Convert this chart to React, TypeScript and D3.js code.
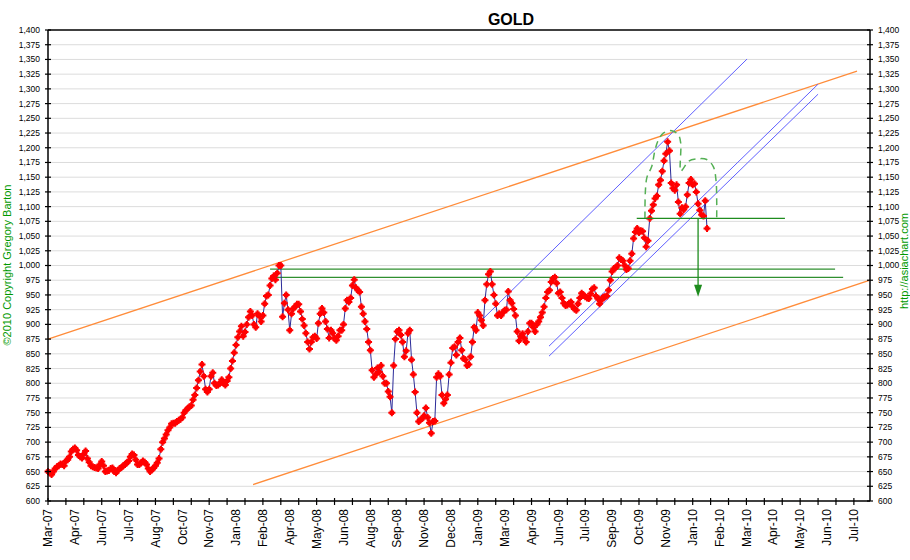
import React from 'react';
import * as d3 from 'd3';

const W = 910;
const H = 560;
const PLOT = { left: 48, right: 870, top: 30, bottom: 501 };

// trading-day sampling of the gold series
const STEP = 2;
const X_MAX = 918;
const LABEL_EVERY = 30;
const TICK_EVERY = 20;

const goldPrices: number[] = [
  650, 648, 645, 650, 655, 658, 660, 663, 662, 660,
  668, 670, 675, 684, 688, 690, 686, 678, 675, 673,
  680, 685, 672, 666, 660, 658, 657, 656, 655, 662,
  667, 660, 650, 651, 652, 655, 656, 650, 648, 652,
  655, 657, 660, 662, 665, 668, 675, 680, 678, 670,
  662, 662, 665, 668, 666, 662, 655, 650, 653, 656,
  660, 665, 672, 688, 700, 706, 713, 720, 725, 731,
  732, 732, 735, 737, 739, 742, 750, 754, 757, 760,
  762, 772, 780, 792, 805, 820, 832, 812, 790, 785,
  790, 812, 818, 800, 796, 797, 800, 806, 800, 797,
  804, 810, 825, 838, 852, 865, 878, 888, 897, 880,
  887, 900, 912, 922, 915, 900, 895, 918, 914, 905,
  915, 935, 948, 950, 966, 978, 982, 976, 987, 1000,
  1000, 913, 936, 950, 925, 890, 918, 927, 930, 934,
  934, 922, 909, 898, 885, 870, 858, 870, 878, 880,
  876, 902, 918, 927, 920, 905, 892, 877, 890, 885,
  876, 873, 880, 890, 890, 900, 927, 941, 938, 945,
  966, 976, 962, 958, 955, 930, 918, 905, 892, 870,
  856, 822, 810, 815, 826, 819, 830, 812, 800, 800,
  786, 777, 750, 830, 875, 888, 890, 882, 870, 845,
  855, 885, 890, 840, 815, 785, 750, 735, 738, 740,
  745, 758, 742, 733, 715, 735, 736, 810, 816, 812,
  780, 766, 773, 780, 815, 835, 860, 862, 848, 870,
  877, 856, 842, 840, 830, 832, 845, 870, 895, 890,
  920, 915, 907, 898, 941, 968, 985, 990, 968, 950,
  935, 915, 918, 915, 920, 924, 925, 956, 941, 936,
  926, 915, 888, 872, 880, 884, 876, 870, 888, 902,
  902, 895, 888, 900, 905, 912, 920, 930, 945, 955,
  958, 972, 978, 980, 970, 953, 955, 945, 936, 932,
  933, 936, 938, 930, 926, 924, 935, 945, 953, 950,
  947, 945, 944, 952, 960, 962, 948, 944, 935, 941,
  946, 947, 948, 958, 975, 990, 995, 996, 1000, 1013,
  1010, 1008, 1000, 993, 995, 1008, 1020, 1046, 1057, 1063,
  1056, 1059, 1058, 1047, 1032, 1042, 1080, 1093, 1103, 1114,
  1118, 1137, 1145, 1160, 1178, 1190, 1210, 1195, 1140, 1131,
  1128, 1137, 1108, 1088, 1098, 1095, 1100, 1120, 1140, 1146,
  1137, 1139, 1125, 1105, 1094, 1086, 1084, 1110, 1063,
];

const xLabels: string[] = [
  'Mar-07', 'Apr-07', 'Jun-07', 'Jul-07', 'Aug-07', 'Oct-07', 'Nov-07', 'Jan-08',
  'Feb-08', 'Apr-08', 'May-08', 'Jun-08', 'Aug-08', 'Sep-08', 'Nov-08', 'Dec-08',
  'Jan-09', 'Mar-09', 'Apr-09', 'Jun-09', 'Jul-09', 'Sep-09', 'Oct-09', 'Nov-09',
  'Jan-10', 'Feb-10', 'Mar-10', 'Apr-10', 'May-10', 'Jun-10', 'Jul-10',
];

const yTicks: number[] = d3.range(600, 1401, 25);

// annotation lines: [trading day, price]
const upperTrend: [number, number][] = [[0, 875], [903.5, 1330]];
const lowerTrend: [number, number][] = [[229, 628], [918, 975]];
const blueUpper: [number, number][] = [[482.5, 904.5], [780.7, 1350.7]];
const blueLower1: [number, number][] = [[559.5, 863], [860, 1308]];
const blueLower2: [number, number][] = [[559.5, 846], [860, 1291]];
const resistHigh: [number, number][] = [[248, 994], [879, 994]];
const resistLow: [number, number][] = [[248, 980], [888, 980]];
const neckline: [number, number][] = [[657.5, 1080], [823, 1080]];
const targetArrow: [number, number][] = [[726, 1080], [726, 947]];
const headShoulders: [number, number][] = [
  [666.7, 1080], [668.6, 1148], [674.2, 1168], [677.9, 1196], [681.6, 1213],
  [687.2, 1225], [696.6, 1229], [704, 1222], [706.6, 1208], [706.6, 1160],
  [709.6, 1165], [715.2, 1177], [724.5, 1181], [735.6, 1180], [743, 1168],
  [746, 1145], [746.8, 1111], [746.8, 1080],
];

const x = d3.scaleLinear().domain([0, X_MAX]).range([PLOT.left, PLOT.right]);
const y = d3.scaleLinear().domain([600, 1400]).range([PLOT.bottom, PLOT.top]);

const line = d3.line<[number, number]>().x((d) => x(d[0])).y((d) => y(d[1]));
const curve = d3
  .line<[number, number]>()
  .x((d) => x(d[0]))
  .y((d) => y(d[1]))
  .curve(d3.curveCatmullRom.alpha(0.5));

const series: [number, number][] = goldPrices.map((v, i) => [i * STEP, v]);

const MARKER =
  'M-1,-3.5H1V-2.2H2.2V-1H3.5V1H2.2V2.2H1V3.5H-1V2.2H-2.2V1H-3.5V-1H-2.2V-2.2H-1Z';

const FONT = "'Liberation Sans', Arial, sans-serif";

export default function App() {
  const fmt = d3.format(',');
  const labelTicks = xLabels.map((l, i) => ({ l, d: i * LABEL_EVERY }));
  const minorTicks = d3.range(0, LABEL_EVERY * (xLabels.length - 1) + 1, TICK_EVERY);
  const ax = x(targetArrow[0][0]);
  const tipY = y(targetArrow[1][1]);

  return (
    <div style={{ position: 'absolute', left: 0, top: 0, background: '#fff' }}>
      <svg width={W} height={H} viewBox={`0 0 ${W} ${H}`} style={{ display: 'block', fontFamily: FONT }}>
        <rect x={0} y={0} width={W} height={H} fill="#ffffff" />
        {/* gridlines */}
        {yTicks
          .filter((v) => v > 600 && v < 1400)
          .map((v) => (
            <line key={'g' + v} x1={PLOT.left} x2={PLOT.right} y1={y(v)} y2={y(v)} stroke="#dcdcdc" strokeWidth={1} />
          ))}

        {/* title */}
        <text x={511} y={25} textAnchor="middle" fontWeight="bold" fontSize={16} fill="#000">
          GOLD
        </text>

        {/* orange trend channel */}
        <path d={line(upperTrend) || ''} stroke="#ff8c3a" strokeWidth={1.3} fill="none" />
        <path d={line(lowerTrend) || ''} stroke="#ff8c3a" strokeWidth={1.3} fill="none" />

        {/* blue channel */}
        <path d={line(blueUpper) || ''} stroke="#6060ff" strokeWidth={1} fill="none" />
        <path d={line(blueLower1) || ''} stroke="#6060ff" strokeWidth={1} fill="none" />
        <path d={line(blueLower2) || ''} stroke="#6060ff" strokeWidth={1} fill="none" />

        {/* green resistance lines */}
        <path d={line(resistHigh) || ''} stroke="#2f8f2f" strokeWidth={1.2} fill="none" />
        <path d={line(resistLow) || ''} stroke="#2f8f2f" strokeWidth={1.2} fill="none" />

        {/* price series */}
        <path d={line(series) || ''} stroke="#2b2b99" strokeWidth={1} fill="none" />
        {series.map((d, i) => (
          <path key={'m' + i} d={MARKER} transform={`translate(${x(d[0])},${y(d[1])})`} fill="#ff0000" />
        ))}

        {/* head & shoulders outline */}
        <path d={curve(headShoulders) || ''} stroke="#55b055" strokeWidth={1.5} strokeDasharray="7,5" fill="none" />

        {/* neckline & target */}
        <path d={line(neckline) || ''} stroke="#1e8c1e" strokeWidth={1.3} fill="none" />
        <line x1={ax} x2={ax} y1={y(targetArrow[0][1])} y2={tipY - 10} stroke="#1e8c1e" strokeWidth={1.3} />
        <path d={`M${ax - 4},${tipY - 12}L${ax + 4},${tipY - 12}L${ax},${tipY}Z`} fill="#1e8c1e" />

        {/* frame */}
        <line x1={PLOT.left} x2={PLOT.right} y1={PLOT.top} y2={PLOT.top} stroke="#000" strokeWidth={1.5} />
        <line x1={PLOT.left} x2={PLOT.right} y1={PLOT.bottom} y2={PLOT.bottom} stroke="#000" strokeWidth={1.5} />
        <line x1={PLOT.left} x2={PLOT.left} y1={PLOT.top} y2={PLOT.bottom} stroke="#000" strokeWidth={1.5} />
        <line x1={PLOT.right} x2={PLOT.right} y1={PLOT.top} y2={PLOT.bottom} stroke="#000" strokeWidth={1.5} />

        {/* y axes */}
        {yTicks.map((v) => (
          <g key={'y' + v}>
            <line x1={PLOT.left - 3} x2={PLOT.left + 3} y1={y(v)} y2={y(v)} stroke="#000" strokeWidth={1.2} />
            <line x1={PLOT.right - 3} x2={PLOT.right + 3} y1={y(v)} y2={y(v)} stroke="#000" strokeWidth={1.2} />
            <text x={PLOT.left - 8} y={y(v)} dy="0.35em" textAnchor="end" fontSize={8.5} fill="#000">
              {fmt(v)}
            </text>
            <text x={PLOT.right + 8} y={y(v)} dy="0.35em" textAnchor="start" fontSize={8.5} fill="#000">
              {fmt(v)}
            </text>
          </g>
        ))}

        {/* x axis */}
        {minorTicks.map((d) => (
          <line key={'t' + d} x1={x(d)} x2={x(d)} y1={PLOT.bottom - 3} y2={PLOT.bottom + 4} stroke="#000" strokeWidth={1.2} />
        ))}
        {labelTicks.map(({ l, d }) => (
          <text
            key={'xl' + l}
            transform={`translate(${x(d)},${PLOT.bottom + 8}) rotate(-90)`}
            dy="0.35em"
            textAnchor="end"
            fontSize={12}
            fill="#000"
          >
            {l}
          </text>
        ))}

        {/* side credits */}
        <text transform={`translate(10.5,265) rotate(-90)`} textAnchor="middle" fontSize={11} fill="#009900">
          ©2010 Copyright Gregory Barton
        </text>
        <text transform={`translate(908,261) rotate(-90)`} textAnchor="middle" fontSize={11} fill="#009900">
          http://asiachart.com
        </text>
      </svg>
    </div>
  );
}
